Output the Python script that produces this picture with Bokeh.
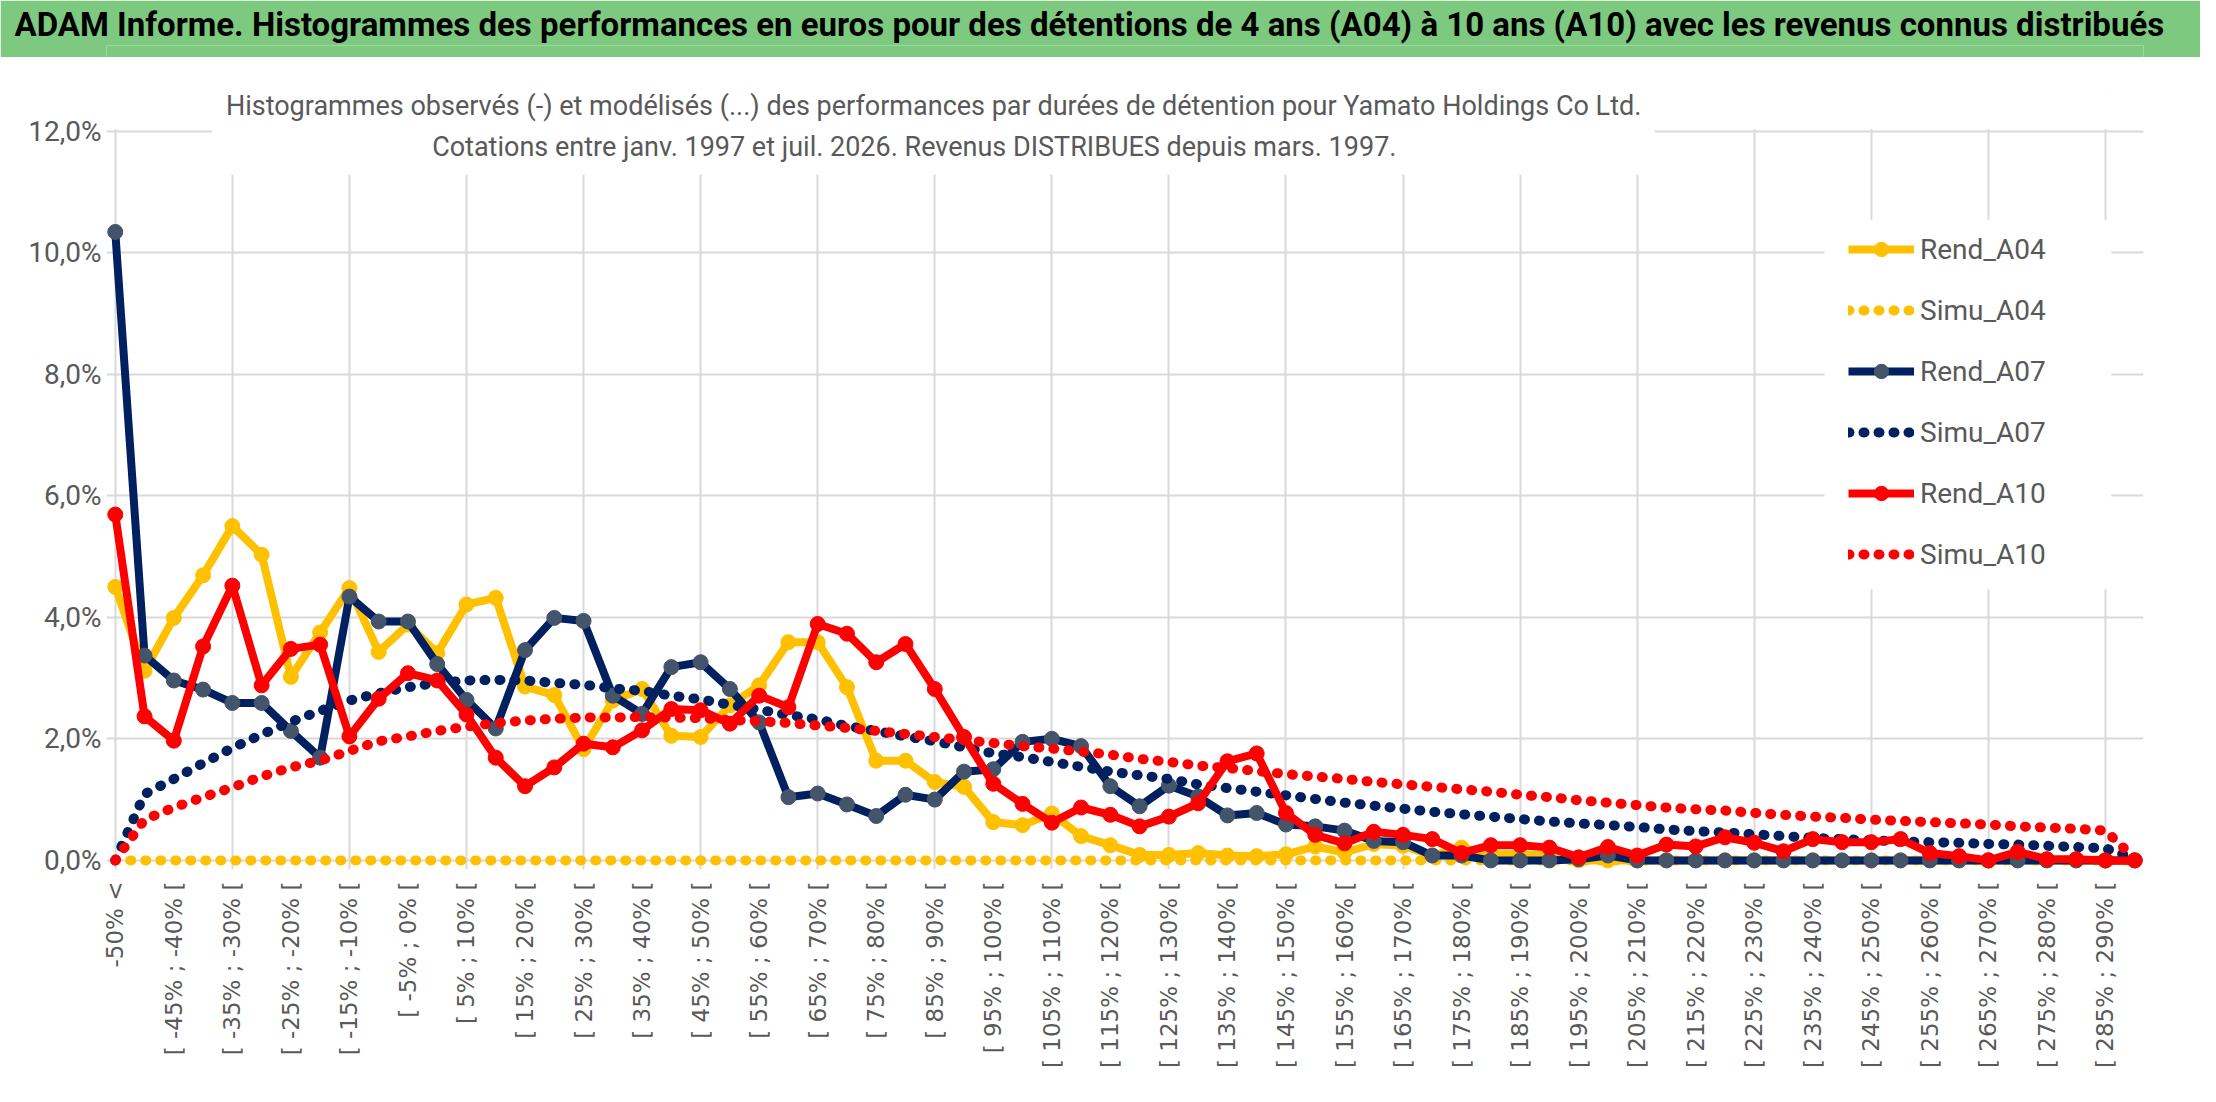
import math

from bokeh.embed import file_html
from bokeh.layouts import column
from bokeh.models import BoxAnnotation, FixedTicker, Label, Legend, LegendItem, Range1d
from bokeh.plotting import figure
from bokeh.resources import INLINE

TITLE = ("ADAM Informe. Histogrammes des performances en euros pour des détentions "
         "de 4 ans (A04) à 10 ans (A10) avec les revenus connus distribués")
SUB1 = ("Histogrammes observés (-) et modélisés (...) des performances par durées "
        "de détention pour Yamato Holdings Co Ltd.")
SUB2 = "Cotations entre janv. 1997 et juil. 2026. Revenus DISTRIBUES depuis mars. 1997."

# classes de performance : "-50% <" puis [ a% ; a+5% [
bin_starts = list(range(-50, 295, 5))
categories = ["-50% <"] + ["[ %d%% ; %d%% [" % (a, a + 5) for a in bin_starts]

y_ticks = [0, 2, 4, 6, 8, 10, 12]
y_tick_labels = ["0,0%", "2,0%", "4,0%", "6,0%", "8,0%", "10,0%", "12,0%"]

# frequences en %
rend_a04 = [4.50, 3.12, 3.99, 4.69, 5.50, 5.03, 3.02, 3.75, 4.48, 3.43,
            3.88, 3.41, 4.21, 4.32, 2.86, 2.72, 1.83, 2.63, 2.82, 2.05,
            2.03, 2.55, 2.88, 3.59, 3.59, 2.85, 1.64, 1.64, 1.29, 1.21,
            0.63, 0.58, 0.77, 0.40, 0.25, 0.09, 0.09, 0.12, 0.08, 0.07,
            0.10, 0.23, 0.13, 0.27, 0.24, 0.08, 0.21, 0.10, 0.10, 0.08,
            0.00, 0.00, 0.00, 0.00, 0.00, 0.00, 0.00, 0.00, 0.00, 0.00,
            0.00, 0.00, 0.00, 0.00, 0.00, 0.00, 0.00, 0.00, 0.00, 0.00]
simu_a04 = [0.0] * 70
rend_a07 = [10.34, 3.37, 2.96, 2.81, 2.59, 2.59, 2.13, 1.69, 4.34, 3.93,
            3.93, 3.23, 2.64, 2.17, 3.46, 3.99, 3.94, 2.71, 2.41, 3.18,
            3.26, 2.82, 2.27, 1.04, 1.10, 0.92, 0.73, 1.08, 1.00, 1.46,
            1.50, 1.95, 2.00, 1.88, 1.22, 0.89, 1.23, 1.05, 0.74, 0.78,
            0.59, 0.56, 0.49, 0.32, 0.30, 0.08, 0.08, 0.00, 0.00, 0.00,
            0.02, 0.08, 0.00, 0.00, 0.00, 0.00, 0.00, 0.00, 0.00, 0.00,
            0.00, 0.00, 0.00, 0.00, 0.00, 0.00, 0.00, 0.00, 0.00, 0.00]
simu_a07 = [0.00, 1.09, 1.34, 1.60, 1.85, 2.07, 2.28, 2.46, 2.63, 2.75,
            2.85, 2.92, 2.96, 2.97, 2.96, 2.92, 2.89, 2.83, 2.79, 2.71,
            2.65, 2.56, 2.48, 2.39, 2.32, 2.21, 2.13, 2.04, 1.96, 1.86,
            1.76, 1.70, 1.62, 1.54, 1.46, 1.40, 1.34, 1.25, 1.19, 1.13,
            1.07, 1.01, 0.95, 0.90, 0.85, 0.80, 0.76, 0.72, 0.68, 0.64,
            0.61, 0.58, 0.55, 0.51, 0.48, 0.46, 0.43, 0.40, 0.37, 0.35,
            0.33, 0.31, 0.30, 0.29, 0.27, 0.26, 0.24, 0.22, 0.20, 0.03]
rend_a10 = [5.69, 2.37, 1.97, 3.52, 4.52, 2.88, 3.48, 3.55, 2.04, 2.66,
            3.08, 2.96, 2.40, 1.69, 1.22, 1.53, 1.92, 1.86, 2.14, 2.49,
            2.47, 2.25, 2.71, 2.52, 3.89, 3.73, 3.26, 3.56, 2.82, 2.03,
            1.26, 0.93, 0.62, 0.87, 0.75, 0.56, 0.72, 0.94, 1.63, 1.76,
            0.78, 0.42, 0.28, 0.47, 0.42, 0.35, 0.12, 0.25, 0.25, 0.21,
            0.05, 0.22, 0.08, 0.26, 0.23, 0.38, 0.29, 0.15, 0.35, 0.30,
            0.30, 0.35, 0.12, 0.07, 0.00, 0.14, 0.02, 0.02, 0.00, 0.00]
simu_a10 = [0.00, 0.67, 0.87, 1.04, 1.20, 1.38, 1.53, 1.64, 1.80, 1.96,
            2.04, 2.13, 2.20, 2.26, 2.30, 2.33, 2.35, 2.35, 2.36, 2.35,
            2.34, 2.31, 2.29, 2.26, 2.22, 2.18, 2.13, 2.08, 2.03, 1.98,
            1.93, 1.88, 1.84, 1.79, 1.74, 1.67, 1.62, 1.56, 1.52, 1.47,
            1.42, 1.38, 1.34, 1.29, 1.25, 1.21, 1.17, 1.13, 1.08, 1.04,
            0.99, 0.95, 0.91, 0.87, 0.84, 0.82, 0.78, 0.75, 0.72, 0.70,
            0.67, 0.65, 0.63, 0.61, 0.59, 0.56, 0.54, 0.52, 0.49, 0.03]

x = list(range(len(categories)))

FONT = "Roboto"
GREY_TXT = "#595959"
GRID = "#D9D9D9"
GREEN = "#7DC97F"
YELLOW = "#FFC000"
NAVY = "#002060"
NAVY_MK = "#44546A"
RED = "#FF0000"

# --- bandeau vert du titre (titre hors cadre, donc non rogne)
head = figure(width=2200, height=57, x_range=Range1d(0, 1), y_range=Range1d(0, 1),
              output_backend="svg", toolbar_location=None, min_border=0, title=TITLE)
head.axis.visible = False
head.grid.visible = False
head.background_fill_color = GREEN
head.border_fill_color = GREEN
head.outline_line_color = None
head.title.align = "left"
head.title.offset = -92
head.title.text_font = FONT
head.title.text_font_size = "33px"
head.title.text_font_style = "bold"
head.title.text_color = "black"
head.title.standoff = 4

# --- graphique
p = figure(width=2200, height=1029, x_range=Range1d(-0.3, 69.3), y_range=Range1d(-0.15, 12.7),
           output_backend="svg", toolbar_location=None,
           min_border_left=106, min_border_right=57, min_border_top=31, min_border_bottom=217)
p.outline_line_color = None
p.background_fill_color = "white"

p.ygrid.ticker = FixedTicker(ticks=y_ticks)
p.xgrid.ticker = FixedTicker(ticks=list(range(0, 70, 4)))
p.grid.grid_line_color = GRID
p.grid.grid_line_width = 2

p.yaxis.ticker = FixedTicker(ticks=y_ticks)
p.yaxis.major_label_overrides = dict(zip(y_ticks, y_tick_labels))
p.xaxis.ticker = FixedTicker(ticks=x[::2])
p.xaxis.major_label_overrides = {i: categories[i] for i in x[::2]}
p.xaxis.major_label_orientation = math.pi / 2
for ax in (p.xaxis, p.yaxis):
    ax.axis_line_color = None
    ax.major_tick_line_color = None
    ax.minor_tick_line_color = None
    ax.major_tick_out = 0
    ax.major_tick_in = 0
    ax.major_label_text_color = GREY_TXT
p.yaxis.major_label_text_font = FONT
p.yaxis.major_label_text_font_size = "28px"
p.yaxis.major_label_standoff = 5
p.xaxis.major_label_text_font = "DejaVu Sans"
p.xaxis.major_label_text_font_size = "23px"
p.xaxis.major_label_standoff = 12

# zone blanche au-dessus de 12 % et derriere le sous-titre
p.add_layout(BoxAnnotation(bottom=12.03, fill_color="white", fill_alpha=1,
                           line_color=None, level="underlay"))
p.add_layout(BoxAnnotation(left=3.3, right=52.6, bottom=11.28, fill_color="white",
                           fill_alpha=1, line_color=None, level="underlay"))
p.add_layout(Label(x=27.96, y=12.41, text=SUB1, text_align="center", text_baseline="middle",
                   text_font=FONT, text_font_size="27px", text_color=GREY_TXT))
p.add_layout(Label(x=27.3, y=11.73, text=SUB2, text_align="center", text_baseline="middle",
                   text_font=FONT, text_font_size="27px", text_color=GREY_TXT))


def rend(values, color, marker_color):
    ln = p.line(x, values, line_color=color, line_width=8, line_join="round")
    mk = p.scatter(x, values, size=15, fill_color=marker_color, line_color=marker_color)
    return [ln, mk]


def simu(values, color):
    return [p.line(x, values, line_color=color, line_width=10, line_dash="1 14",
                   line_cap="round")]


items = [
    ("Rend_A04", rend(rend_a04, YELLOW, YELLOW)),
    ("Simu_A04", simu(simu_a04, YELLOW)),
    ("Rend_A07", rend(rend_a07, NAVY, NAVY_MK)),
    ("Simu_A07", simu(simu_a07, NAVY)),
    ("Rend_A10", rend(rend_a10, RED, RED)),
    ("Simu_A10", simu(simu_a10, RED)),
]

p.add_layout(BoxAnnotation(left=58.4, right=68.2, bottom=4.46, top=10.54, fill_color="white",
                           fill_alpha=1, line_color=None, level="annotation"))
legend = Legend(items=[LegendItem(label=n, renderers=r) for n, r in items],
                location=(1742, 297), label_text_font=FONT, label_text_font_size="28px",
                label_text_color=GREY_TXT, glyph_width=66, glyph_height=36, label_height=36,
                spacing=25, padding=16, margin=0, label_standoff=6, border_line_color=None,
                background_fill_color="white", background_fill_alpha=1)
p.add_layout(legend)

page = column(head, p, spacing=0)
open("out.html", "w").write(file_html(page, INLINE))
